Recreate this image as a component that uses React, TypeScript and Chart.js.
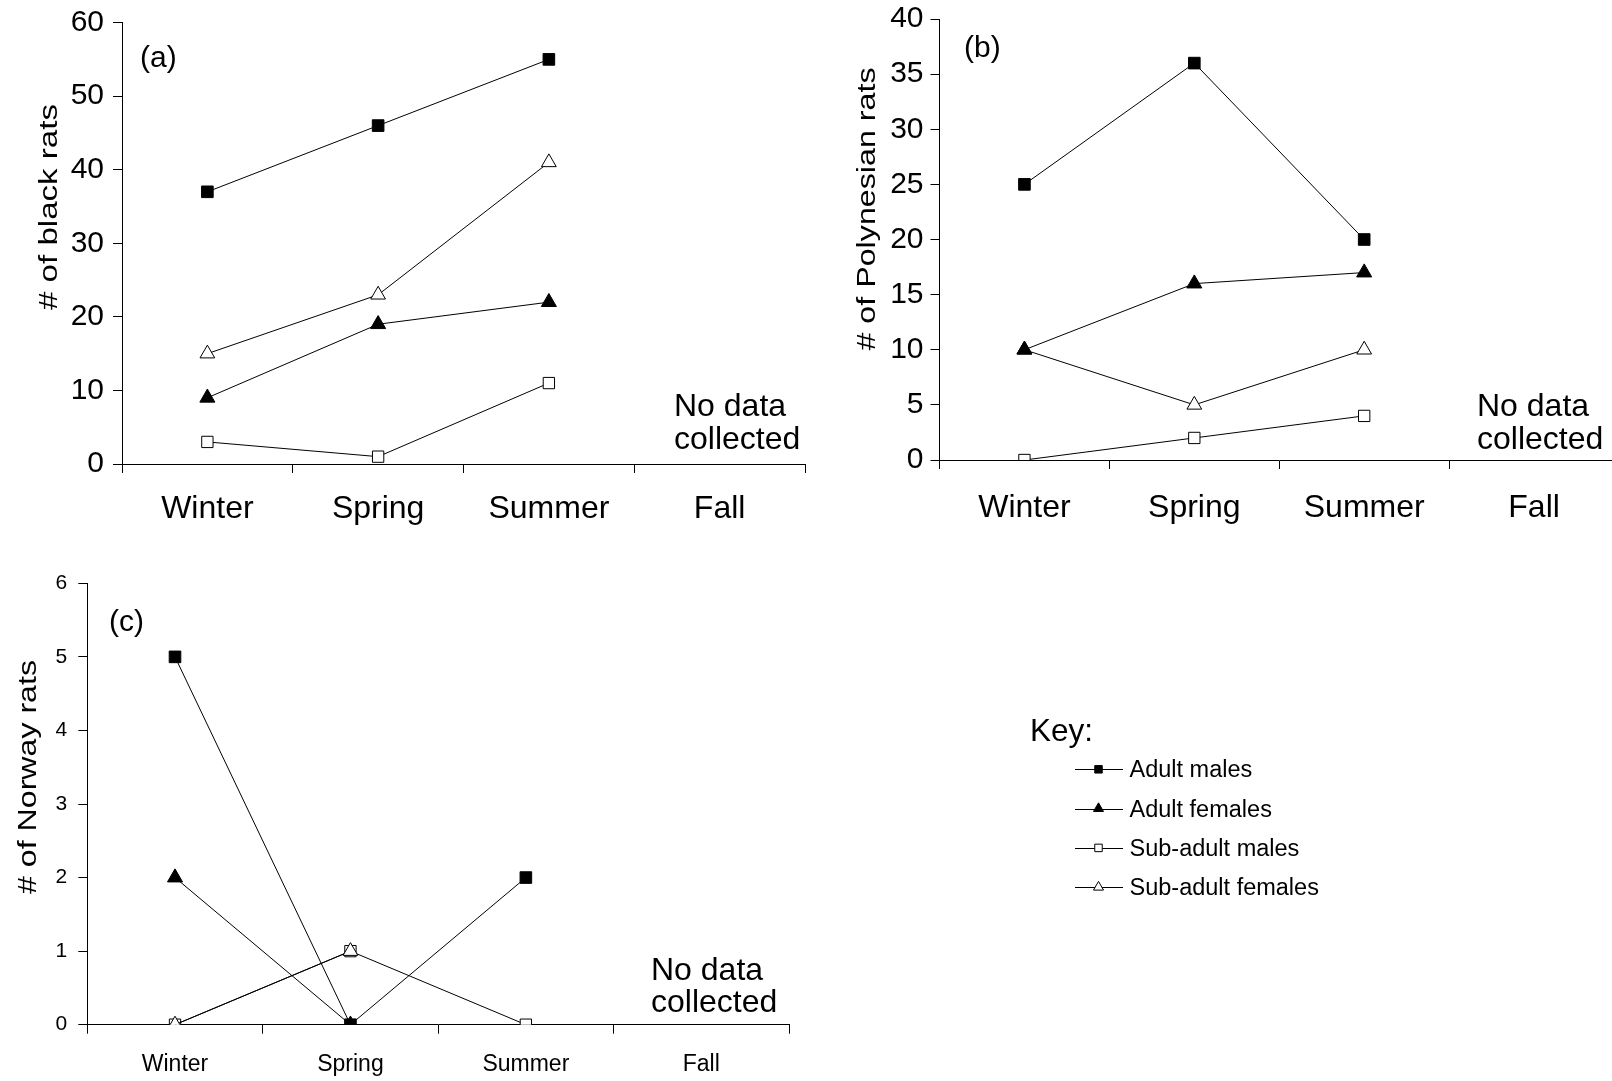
import React, { useEffect, useRef } from 'react';
import { Chart, registerables } from 'chart.js';

Chart.register(...registerables);

const FONT = "'Liberation Sans', Arial, Helvetica, sans-serif";
Chart.defaults.font.family = FONT;
Chart.defaults.color = '#000';

// ---------------- data ----------------
const seasons = ['Winter', 'Spring', 'Summer', 'Fall'];
const seriesNames = ['Adult males', 'Adult females', 'Sub-adult males', 'Sub-adult females'];

const blackAdultMales = [37, 46, 55, null];
const blackAdultFemales = [9, 19, 22, null];
const blackSubAdultMales = [3, 1, 11, null];
const blackSubAdultFemales = [15, 23, 41, null];

const polyAdultMales = [25, 36, 20, null];
const polyAdultFemales = [10, 16, 17, null];
const polySubAdultMales = [0, 2, 4, null];
const polySubAdultFemales = [10, 5, 10, null];

const norwayAdultMales = [5, 0, 2, null];
const norwayAdultFemales = [2, 0, null, null];
const norwaySubAdultMales = [0, 1, 0, null];
const norwaySubAdultFemales = [0, 1, null, null];

const blackYTicks = [0, 10, 20, 30, 40, 50, 60];
const polyYTicks = [0, 5, 10, 15, 20, 25, 30, 35, 40];
const norwayYTicks = [0, 1, 2, 3, 4, 5, 6];

const panelTitles = ['# of black rats', '# of Polynesian rats', '# of Norway rats'];
const panelTags = ['(a)', '(b)', '(c)'];
const noDataLines = ['No data', 'collected'];
const keyTitle = 'Key:';

// ---------------- styles ----------------
const seriesStyles = [
  { pointStyle: 'rect', fill: '#000000', radius: 8.2, order: 0 },
  { pointStyle: 'triangle', fill: '#000000', radius: 8.7, order: 1 },
  { pointStyle: 'rect', fill: '#ffffff', radius: 8, order: 3 },
  { pointStyle: 'triangle', fill: '#ffffff', radius: 8.5, order: 2 },
];

type Panel = {
  series: (number | null)[][];
  yTicks: number[];
  title: string;
  tag: string;
  canvas: { x: number; y: number; w: number; h: number };
  area: { left: number; top: number; right: number; bottom: number };
  xFont: number; xPad: number; yFont: number; yPad: number;
  titlePos: { cy: number; bx: number; len: number; size: number };
  tagPos: { x: number; y: number; size: number };
  noData: { x: number; y: number; dy: number; size: number };
  legend: boolean;
};

const panels: Panel[] = [
  {
    series: [blackAdultMales, blackAdultFemales, blackSubAdultMales, blackSubAdultFemales],
    yTicks: blackYTicks,
    title: panelTitles[0],
    tag: panelTags[0],
    canvas: { x: -40, y: -40, w: 865, h: 580 },
    area: { left: 122, top: 22.6, right: 805, bottom: 464 },
    xFont: 32, xPad: 17, yFont: 30, yPad: 9,
    titlePos: { cy: 207, bx: 56.7, len: 206, size: 25 },
    tagPos: { x: 140, y: 67, size: 30 },
    noData: { x: 674, y: 416, dy: 33, size: 32 },
    legend: false,
  },
  {
    series: [polyAdultMales, polyAdultFemales, polySubAdultMales, polySubAdultFemales],
    yTicks: polyYTicks,
    title: panelTitles[1],
    tag: panelTags[1],
    canvas: { x: 800, y: -40, w: 830, h: 580 },
    area: { left: 939.5, top: 19, right: 1619, bottom: 460 },
    xFont: 32, xPad: 20, yFont: 30, yPad: 7,
    titlePos: { cy: 209, bx: 875, len: 283, size: 25 },
    tagPos: { x: 964, y: 57, size: 30 },
    noData: { x: 1477, y: 416, dy: 33, size: 32 },
    legend: false,
  },
  {
    series: [norwayAdultMales, norwayAdultFemales, norwaySubAdultMales, norwaySubAdultFemales],
    yTicks: norwayYTicks,
    title: panelTitles[2],
    tag: panelTags[2],
    canvas: { x: -40, y: 540, w: 1652, h: 541 },
    area: { left: 87.3, top: 583.3, right: 789, bottom: 1024.7 },
    xFont: 23, xPad: 17, yFont: 21, yPad: 11,
    titlePos: { cy: 777, bx: 35.5, len: 234, size: 26 },
    tagPos: { x: 109, y: 630.5, size: 30 },
    noData: { x: 651, y: 980, dy: 32, size: 32 },
    legend: true,
  },
];

const legendLayout = {
  keyX: 1030, keyY: 741, keySize: 31.5,
  lineX0: 1075, lineX1: 1123, markerX: 1098.5,
  firstY: 769.3, step: 39.3, textX: 1129.5, textDy: 8, textSize: 23.5,
};

function drawMarker(ctx: CanvasRenderingContext2D, style: any, x: number, y: number, r: number) {
  ctx.beginPath();
  if (style.pointStyle === 'rect') {
    const h = r * Math.SQRT1_2;
    ctx.rect(x - h, y - h, 2 * h, 2 * h);
  } else {
    ctx.moveTo(x, y - r);
    ctx.lineTo(x + r * 0.866, y + r * 0.5);
    ctx.lineTo(x - r * 0.866, y + r * 0.5);
    ctx.closePath();
  }
  ctx.fillStyle = style.fill;
  ctx.fill();
  ctx.strokeStyle = '#000';
  ctx.lineWidth = 1;
  ctx.stroke();
}

function makeAnnotationPlugin(p: Panel) {
  return {
    id: 'panelAnnotations',
    afterDraw(chart: any) {
      const ctx: CanvasRenderingContext2D = chart.ctx;
      const ox = p.canvas.x;
      const oy = p.canvas.y;
      ctx.save();
      ctx.fillStyle = '#000';
      ctx.textAlign = 'left';
      ctx.textBaseline = 'alphabetic';

      // panel tag
      ctx.font = `${p.tagPos.size}px ${FONT}`;
      ctx.fillText(p.tag, p.tagPos.x - ox, p.tagPos.y - oy);

      // "No data collected"
      ctx.font = `${p.noData.size}px ${FONT}`;
      noDataLines.forEach((t, i) => {
        ctx.fillText(t, p.noData.x - ox, p.noData.y + i * p.noData.dy - oy);
      });

      // y-axis title (wide lettering, rotated)
      ctx.save();
      ctx.font = `${p.titlePos.size}px ${FONT}`;
      const w = ctx.measureText(p.title).width;
      const s = p.titlePos.len / w;
      ctx.translate(p.titlePos.bx - ox, p.titlePos.cy - oy);
      ctx.rotate(-Math.PI / 2);
      ctx.scale(s, 1);
      ctx.textAlign = 'center';
      ctx.fillText(p.title, 0, 0);
      ctx.restore();

      // key
      if (p.legend) {
        const L = legendLayout;
        ctx.fillStyle = '#000';
        ctx.textAlign = 'left';
        ctx.font = `${L.keySize}px ${FONT}`;
        ctx.fillText(keyTitle, L.keyX - ox, L.keyY - oy);
        ctx.font = `${L.textSize}px ${FONT}`;
        seriesNames.forEach((name, i) => {
          const y = L.firstY + i * L.step - oy;
          ctx.beginPath();
          ctx.moveTo(L.lineX0 - ox, Math.round(y) + 0.5);
          ctx.lineTo(L.lineX1 - ox, Math.round(y) + 0.5);
          ctx.strokeStyle = '#000';
          ctx.lineWidth = 1;
          ctx.stroke();
          const st = seriesStyles[i];
          drawMarker(ctx, st, L.markerX - ox, y, st.pointStyle === 'rect' ? 5.3 : 5.8);
          ctx.fillStyle = '#000';
          ctx.fillText(name, L.textX - ox, y + L.textDy);
        });
      }
      ctx.restore();
    },
  };
}

function buildConfig(p: Panel): any {
  const yMax = p.yTicks[p.yTicks.length - 1];
  const yStep = p.yTicks[1] - p.yTicks[0];
  return {
    type: 'line',
    data: {
      labels: seasons,
      datasets: p.series.map((values, i) => {
        const st = seriesStyles[i];
        return {
          label: seriesNames[i],
          data: values,
          order: st.order,
          borderColor: '#000',
          borderWidth: 1,
          tension: 0,
          fill: false,
          spanGaps: false,
          pointStyle: st.pointStyle,
          pointRadius: st.radius,
          pointHoverRadius: st.radius,
          pointBackgroundColor: st.fill,
          pointBorderColor: '#000',
          pointBorderWidth: 1,
        };
      }),
    },
    options: {
      responsive: false,
      animation: false,
      events: [],
      layout: {
        padding: {
          left: 0,
          top: p.area.top - p.canvas.y,
          right: p.canvas.x + p.canvas.w - p.area.right,
          bottom: 0,
        },
      },
      plugins: {
        legend: { display: false },
        tooltip: { enabled: false },
        title: { display: false },
      },
      scales: {
        x: {
          type: 'category',
          offset: true,
          grid: {
            display: true,
            drawOnChartArea: false,
            drawTicks: true,
            tickLength: 9,
            offset: true,
            color: '#000',
            lineWidth: 1,
          },
          border: { display: true, color: '#000', width: 1 },
          ticks: {
            color: '#000',
            font: { family: FONT, size: p.xFont },
            padding: p.xPad,
            maxRotation: 0,
            minRotation: 0,
            autoSkip: false,
          },
          afterFit: (scale: any) => {
            scale.height = p.canvas.y + p.canvas.h - p.area.bottom;
          },
        },
        y: {
          type: 'linear',
          min: p.yTicks[0],
          max: yMax,
          grid: {
            display: true,
            drawOnChartArea: false,
            drawTicks: true,
            tickLength: 9,
            color: '#000',
            lineWidth: 1,
          },
          border: { display: true, color: '#000', width: 1 },
          ticks: {
            stepSize: yStep,
            color: '#000',
            font: { family: FONT, size: p.yFont },
            padding: p.yPad,
          },
          afterFit: (scale: any) => {
            scale.width = p.area.left - p.canvas.x;
          },
        },
      },
    },
    plugins: [makeAnnotationPlugin(p)],
  };
}

function PanelChart({ panel }: { panel: Panel }) {
  const ref = useRef<HTMLCanvasElement>(null);
  useEffect(() => {
    if (!ref.current) return;
    const chart = new Chart(ref.current, buildConfig(panel));
    return () => chart.destroy();
  }, [panel]);
  const c = panel.canvas;
  return (
    <canvas
      ref={ref}
      width={c.w}
      height={c.h}
      style={{ position: 'absolute', left: c.x, top: c.y, width: c.w, height: c.h }}
    />
  );
}

export default function App() {
  return (
    <div
      style={{
        position: 'absolute',
        left: 0,
        top: 0,
        width: 1612,
        height: 1081,
        overflow: 'hidden',
        background: '#ffffff',
      }}
    >
      {panels.map((p, i) => (
        <PanelChart key={i} panel={p} />
      ))}
    </div>
  );
}
